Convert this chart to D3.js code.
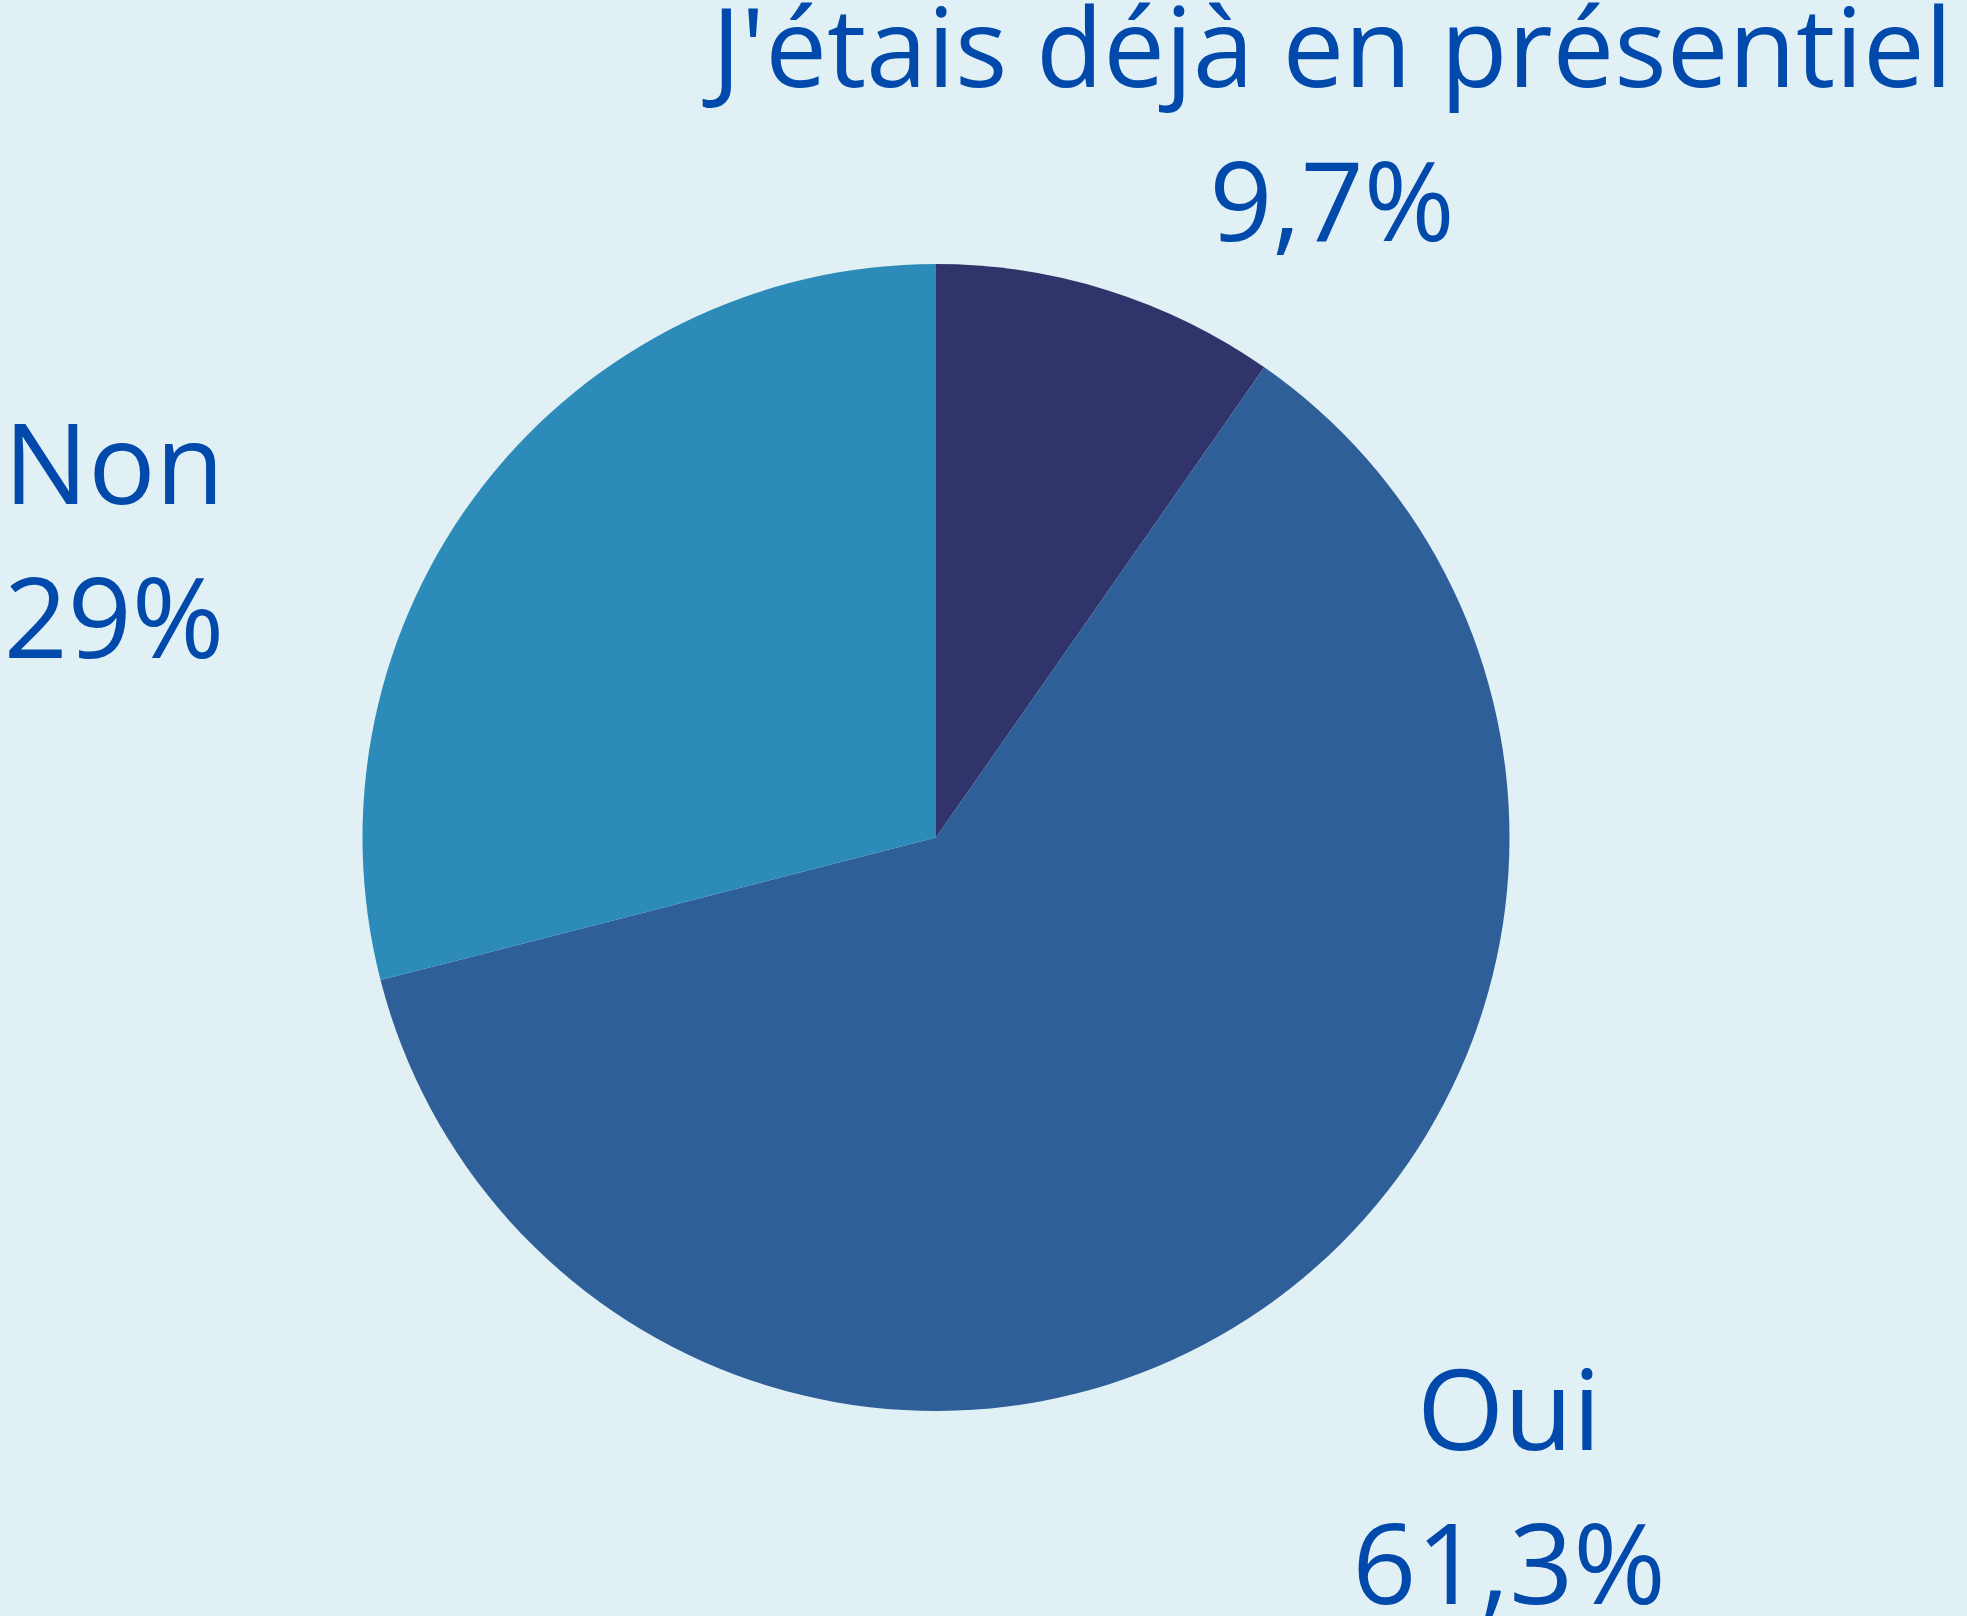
<!DOCTYPE html>
<html>
<head>
<meta charset="utf-8">
<script src="https://cdn.jsdelivr.net/npm/d3@7"></script>
<style>
  html, body { margin: 0; padding: 0; background: #e0f0f4; }
  svg { display: block; }
  text { font-family: "Open Sans", sans-serif; fill: #014aac; }
</style>
</head>
<body>
<svg></svg>
<script>
// data
var labels = ["J'étais déjà en présentiel", "Oui", "Non"];
var values = [9.7, 61.3, 29];
var valueLabels = ["9,7%", "61,3%", "29%"];
var colors = ["#30346a", "#2e5f98", "#2d8bb9"];

var width = 1967,
    height = 1616,
    cx = 936,
    cy = 837.5,
    radius = 573.5;

// where each label block sits (centre x, first baseline, font size)
var labelPos = [
  [1332, 87, 110],
  [1509, 1450, 112],
  [114, 504, 112]
];
var lineGap = 154;

var svg = d3.select('svg')
  .attr('width', width)
  .attr('height', height);

svg.append('rect')
  .attr('width', width)
  .attr('height', height)
  .attr('fill', '#e0f0f4');

var pie = d3.pie()
  .sort(null)
  .value(function(d){ return d; });

var arc = d3.arc()
  .innerRadius(0)
  .outerRadius(radius);

var g = svg.append('g')
  .attr('transform', 'translate(' + cx + ',' + cy + ')');

g.selectAll('path')
  .data(pie(values))
  .enter().append('path')
    .attr('d', arc)
    .attr('fill', function(d, i){ return colors[i]; });

// labels
var lab = svg.append('g');
labels.forEach(function(name, i){
  var p = labelPos[i];
  var t = lab.append('text')
    .attr('text-anchor', 'middle')
    .attr('font-size', p[2] + 'px');
  t.append('tspan')
    .attr('x', p[0])
    .attr('y', p[1])
    .text(name);
  t.append('tspan')
    .attr('x', p[0])
    .attr('y', p[1] + lineGap)
    .text(valueLabels[i]);
});
</script>
</body>
</html>
